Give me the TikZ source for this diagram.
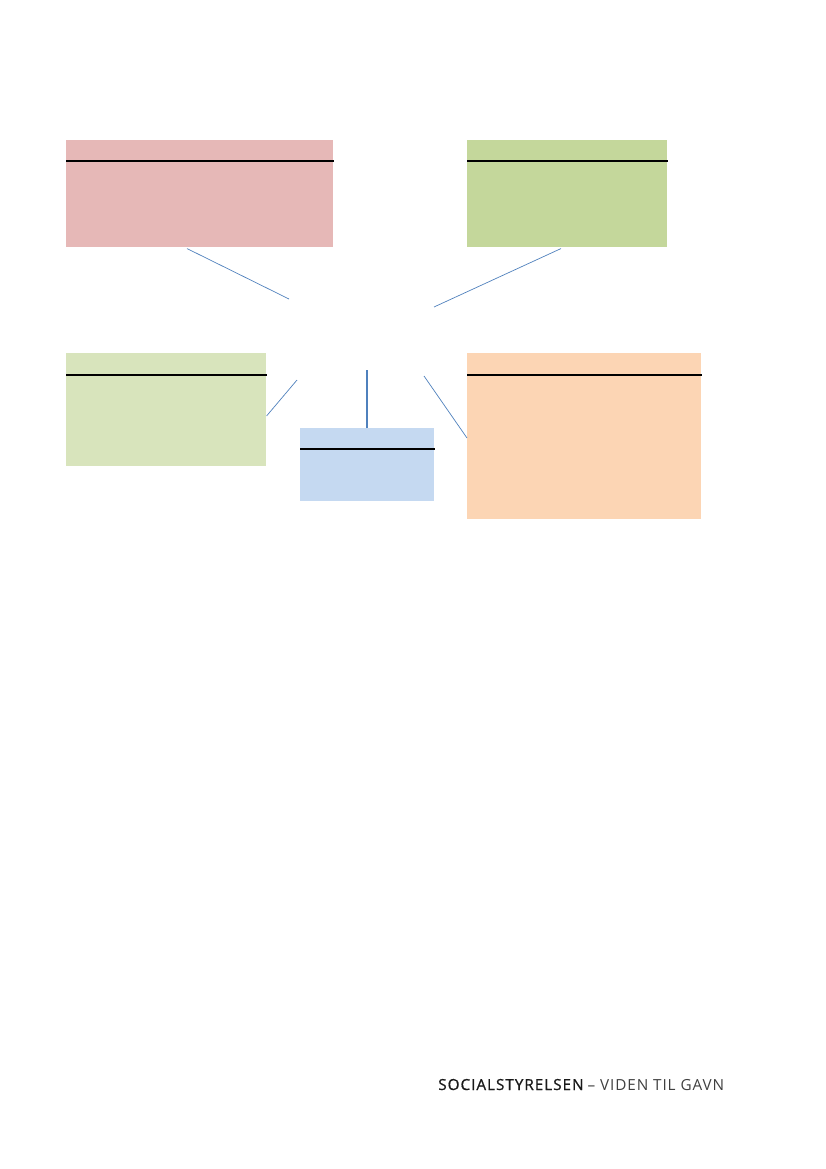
\documentclass[tikz,border=0pt]{standalone}
\usepackage{fontspec}
\setmainfont{Open Sans}
\newfontfamily\footbold[LetterSpace=6.5,FakeBold=0.8]{Open Sans}
\newfontfamily\footlight[LetterSpace=6]{Open Sans}
\usetikzlibrary{calc}
\definecolor{boxred}{HTML}{E6B8B7}
\definecolor{boxgreen}{HTML}{C4D79B}
\definecolor{boxlgreen}{HTML}{D8E4BC}
\definecolor{boxblue}{HTML}{C5D9F1}
\definecolor{boxorange}{HTML}{FCD5B4}
\definecolor{linkblue}{HTML}{4F81BD}
\tikzset{
  cbox/.style={draw=none, inner sep=0pt, anchor=north west},
  hdr/.style={black, line width=0.9pt},
  link/.style={linkblue, line width=0.5pt},
  linkstrong/.style={linkblue, line width=1.1pt},
}
\begin{document}
\begin{tikzpicture}[x=0.72pt, y=-0.72pt]
\useasboundingbox[fill=white] (0,0) rectangle (826,1169);
% boxes
\node[cbox, fill=boxred, minimum width=267*0.72pt, minimum height=107*0.72pt] (red) at (66,140) {};
\node[cbox, fill=boxgreen, minimum width=200*0.72pt, minimum height=107*0.72pt] (green) at (467,140) {};
\node[cbox, fill=boxlgreen, minimum width=200*0.72pt, minimum height=113*0.72pt] (lgreen) at (66,353) {};
\node[cbox, fill=boxblue, minimum width=134*0.72pt, minimum height=73*0.72pt] (blue) at (300,428) {};
\node[cbox, fill=boxorange, minimum width=234*0.72pt, minimum height=166*0.72pt] (orange) at (467,353) {};
% header rules
\draw[hdr] ($(red.north west)+(0,21)$) -- ($(red.north east)+(0,21)$);
\draw[hdr] ($(green.north west)+(0,21)$) -- ($(green.north east)+(0,21)$);
\draw[hdr] ($(lgreen.north west)+(0,22)$) -- ($(lgreen.north east)+(0,22)$);
\draw[hdr] ($(blue.north west)+(0,21)$) -- ($(blue.north east)+(0,21)$);
\draw[hdr] ($(orange.north west)+(0,22)$) -- ($(orange.north east)+(0,22)$);
% free ends of connectors
\coordinate (cA) at (289,299);
\coordinate (cB) at (434,307);
\coordinate (cC) at (297,380);
\coordinate (cE) at (424,376);
% connectors
\draw[link] ($(red.south west)+(121,1)$) -- (cA);
\draw[link] ($(green.south west)+(94,1)$) -- (cB);
\draw[link] ($(lgreen.north east)+(0,63)$) -- (cC);
\draw[linkstrong] ($(blue.north)+(-0.5,0)$) -- ++(0,-58) coordinate (cD);
\draw[link] ($(orange.north west)+(0,85)$) -- (cE);
% footer
\node[anchor=base west, inner sep=0pt, font=\fontsize{11}{13}\selectfont] (foot) at (438,1090)
  {{\footbold\color{black!90}SOCIALSTYRELSEN}\ {\footlight\color{black!75}– VIDEN TIL GAVN}};
\end{tikzpicture}
\end{document}
